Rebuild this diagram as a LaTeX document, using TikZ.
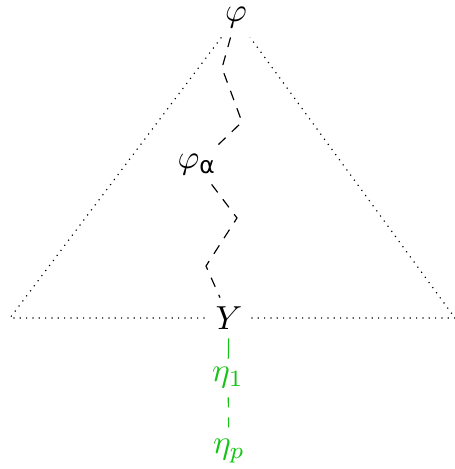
\documentclass[tikz,border=0pt]{standalone}
\usepackage{fontspec}
\newfontfamily\dvsans{DejaVu Sans}
\definecolor{eta}{RGB}{20,195,20}
\begin{document}
\begin{tikzpicture}[x=0.3pt,y=-0.3pt,
  lbl/.style={inner sep=2.5pt},
  tri/.style={line width=0.35pt,dash pattern=on 0.35pt off 1.55pt},
  zig/.style={line width=0.35pt,dash pattern=on 3pt off 2.6pt},
  gline/.style={eta,line width=0.35pt}]
\useasboundingbox (0,0) rectangle (455,469);
\node[lbl] (phi) at (236,18) {$\varphi$};
\node[lbl] (phia) at (197,165) {$\varphi_{\hbox{\dvsans\fontsize{7}{8}\selectfont α}}$};
\node[lbl] (Y) at (229,318) {$Y$};
\node[lbl,text=eta] (eta1) at (228,378) {$\eta_1$};
\node[lbl,text=eta] (etap) at (229,451) {$\eta_p$};
\coordinate (L) at (10,318);
\coordinate (R) at (455,318);
\coordinate (z1) at (222,68);
\coordinate (z2) at (242,122);
\coordinate (z3) at (237,218);
\coordinate (z4) at (206,266);
\draw[tri] (phi) -- (L) -- (Y) -- (R) -- (phi);
\draw[zig] (phi) -- (z1) -- (z2) -- (phia);
\draw[zig] (phia) -- (z3) -- (z4) -- (Y);
\draw[gline] (Y) -- (eta1);
\draw[gline,dashed] (eta1) -- (etap);
\end{tikzpicture}
\end{document}
